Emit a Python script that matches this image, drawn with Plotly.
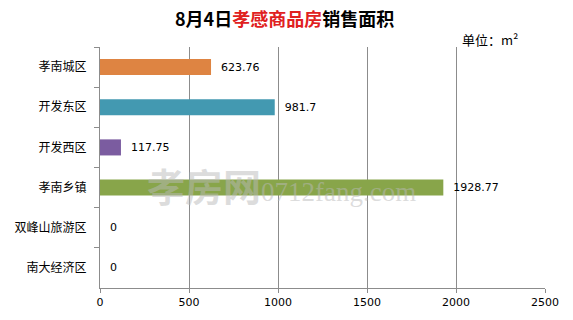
import plotly.graph_objects as go

categories = ["孝南城区", "开发东区", "开发西区", "孝南乡镇", "双峰山旅游区", "南大经济区"]
values = [623.76, 981.7, 117.75, 1928.77, 0, 0]
labels = ["623.76", "981.7", "117.75", "1928.77", "0", "0"]
colors = ["#DE8442", "#4399B1", "#7B5CA0", "#88A54A", "#888888", "#888888"]
x_ticks = [0, 500, 1000, 1500, 2000, 2500]

font_cjk = "Noto Sans CJK SC, Verdana, DejaVu Sans"

fig = go.Figure()
fig.add_trace(go.Bar(
    y=categories, x=values, orientation="h",
    marker=dict(color=colors, line=dict(width=0)),
    text=["  " + t for t in labels], textposition="outside", cliponaxis=False,
    textfont=dict(family="Verdana, DejaVu Sans", size=11, color="#000000"),
))

fig.add_annotation(text="<b>8月4日<span style='color:#E02020'>孝感商品房</span>销售面积</b>",
                   xref="paper", yref="paper", x=0.415, y=1.0, yshift=29,
                   xanchor="center", yanchor="middle", showarrow=False,
                   font=dict(family=font_cjk, size=18, color="#000000"))
fig.add_annotation(text="单位：m²", xref="paper", yref="paper", x=0.81, y=1.0, yshift=8,
                   xanchor="left", yanchor="middle", showarrow=False,
                   font=dict(family=font_cjk, size=13, color="#000000"))
fig.add_annotation(text="<b>孝房网</b><span style='font-family:Liberation Serif;font-size:27px'>0712fang.com</span>",
                   xref="paper", yref="paper", x=0.1, y=0.43,
                   xanchor="left", yanchor="middle", showarrow=False,
                   font=dict(family=font_cjk, size=38, color="rgba(185,185,185,0.5)"))

fig.update_layout(
    width=573, height=320,
    margin=dict(l=100, r=28, t=47, b=32),
    paper_bgcolor="white", plot_bgcolor="white",
    showlegend=False, bargap=0.6,
    xaxis=dict(range=[0, 2500], tickvals=x_ticks, ticktext=[str(v) for v in x_ticks],
               showgrid=True, gridcolor="#8C8C8C", gridwidth=1,
               showline=True, linecolor="#8C8C8C", linewidth=1,
               ticks="outside", ticklen=4, tickcolor="#8C8C8C",
               zeroline=False,
               tickfont=dict(family="Verdana, DejaVu Sans", size=11, color="#000000")),
    yaxis=dict(autorange="reversed", type="category", tickson="boundaries",
               showline=True, linecolor="#8C8C8C", linewidth=1,
               ticks="outside", ticklen=5, tickcolor="#8C8C8C",
               showgrid=False, ticklabelstandoff=10,
               tickfont=dict(family=font_cjk, size=12, color="#000000")),
)

fig.write_html("out.html")
